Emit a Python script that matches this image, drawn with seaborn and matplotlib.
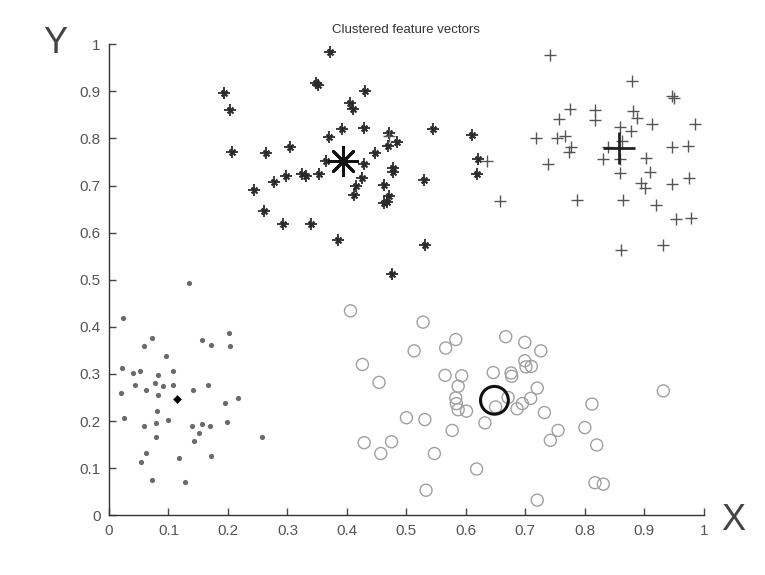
import matplotlib
matplotlib.use("Agg")
import matplotlib.pyplot as plt
import seaborn as sns
import pandas as pd

# cluster 1: asterisks (upper left)
star_x = [0.371, 0.348, 0.352, 0.193, 0.431, 0.204, 0.406, 0.411, 0.392, 0.429, 0.370, 0.471,
          0.485, 0.469, 0.545, 0.611, 0.621, 0.618, 0.207, 0.264, 0.304, 0.364, 0.448, 0.429,
          0.478, 0.478, 0.426, 0.416, 0.412, 0.463, 0.471, 0.463, 0.467, 0.530, 0.353, 0.332,
          0.324, 0.297, 0.277, 0.244, 0.261, 0.293, 0.339, 0.385, 0.531, 0.475]
star_y = [0.984, 0.918, 0.914, 0.897, 0.900, 0.860, 0.875, 0.863, 0.820, 0.822, 0.803, 0.811,
          0.792, 0.785, 0.820, 0.807, 0.756, 0.724, 0.772, 0.769, 0.781, 0.752, 0.769, 0.745,
          0.738, 0.729, 0.717, 0.699, 0.679, 0.701, 0.677, 0.662, 0.665, 0.711, 0.725, 0.720,
          0.724, 0.720, 0.708, 0.690, 0.646, 0.619, 0.618, 0.585, 0.573, 0.512]

# cluster 2: plus signs (upper right)
plus_x = [0.742, 0.879, 0.947, 0.950, 0.775, 0.756, 0.817, 0.817, 0.881, 0.888, 0.913, 0.985,
          0.859, 0.878, 0.718, 0.754, 0.766, 0.776, 0.773, 0.839, 0.862, 0.831, 0.859, 0.903,
          0.947, 0.974, 0.738, 0.859, 0.909, 0.894, 0.901, 0.946, 0.975, 0.657, 0.787, 0.864,
          0.920, 0.954, 0.978, 0.932, 0.860, 0.635, 0.470]
plus_y = [0.977, 0.921, 0.890, 0.886, 0.862, 0.842, 0.860, 0.840, 0.858, 0.844, 0.830, 0.830,
          0.824, 0.816, 0.801, 0.800, 0.805, 0.781, 0.771, 0.781, 0.795, 0.757, 0.757, 0.759,
          0.781, 0.783, 0.745, 0.727, 0.728, 0.706, 0.694, 0.703, 0.717, 0.667, 0.670, 0.670,
          0.658, 0.628, 0.631, 0.573, 0.563, 0.752, 0.805]

# cluster 3: dots (lower left)
dot_x = [0.134, 0.024, 0.072, 0.058, 0.156, 0.171, 0.202, 0.204, 0.096, 0.021, 0.040, 0.052,
         0.082, 0.107, 0.043, 0.077, 0.090, 0.107, 0.167, 0.020, 0.063, 0.082, 0.142, 0.217,
         0.195, 0.081, 0.026, 0.100, 0.199, 0.058, 0.079, 0.139, 0.157, 0.170, 0.152, 0.079,
         0.257, 0.143, 0.062, 0.054, 0.118, 0.171, 0.072, 0.128]
dot_y = [0.494, 0.418, 0.377, 0.359, 0.372, 0.362, 0.386, 0.359, 0.339, 0.313, 0.301, 0.306,
         0.297, 0.306, 0.277, 0.281, 0.275, 0.277, 0.277, 0.260, 0.265, 0.255, 0.265, 0.248,
         0.239, 0.221, 0.207, 0.202, 0.198, 0.190, 0.196, 0.190, 0.193, 0.190, 0.175, 0.166,
         0.166, 0.158, 0.132, 0.112, 0.122, 0.126, 0.074, 0.071]

# cluster 4: open circles (lower right)
circ_x = [0.406, 0.528, 0.583, 0.566, 0.513, 0.667, 0.699, 0.726, 0.426, 0.699, 0.710, 0.701,
          0.646, 0.676, 0.677, 0.565, 0.593, 0.454, 0.587, 0.720, 0.932, 0.583, 0.584, 0.587,
          0.601, 0.650, 0.671, 0.709, 0.695, 0.686, 0.732, 0.812, 0.500, 0.531, 0.632, 0.577,
          0.800, 0.755, 0.742, 0.820, 0.429, 0.475, 0.457, 0.547, 0.618, 0.817, 0.831, 0.533,
          0.720]
circ_y = [0.434, 0.410, 0.373, 0.355, 0.349, 0.379, 0.367, 0.349, 0.320, 0.328, 0.316, 0.315,
          0.303, 0.302, 0.295, 0.297, 0.296, 0.282, 0.274, 0.270, 0.264, 0.249, 0.237, 0.224,
          0.221, 0.230, 0.250, 0.248, 0.237, 0.226, 0.218, 0.236, 0.207, 0.203, 0.196, 0.180,
          0.186, 0.180, 0.159, 0.149, 0.154, 0.156, 0.131, 0.131, 0.098, 0.069, 0.066, 0.053,
          0.032]

# cluster centres
cent_x = [0.394, 0.858, 0.114, 0.648]
cent_y = [0.752, 0.779, 0.246, 0.244]

sns.set_theme(style="white")
plt.rcParams['font.family'] = ['Liberation Sans', 'DejaVu Sans']

fig = plt.figure(figsize=(7.65, 5.75), dpi=100)
ax = fig.add_axes([0.1425, 0.104, 0.7775, 0.819])

asterisk = (8, 2, 0)

# small asterisks look like a plus with a heavy centre in the source image
sns.scatterplot(x=star_x, y=star_y, ax=ax, marker='+', s=70, color='#2a2a2a', linewidth=1.3)
sns.scatterplot(x=star_x, y=star_y, ax=ax, marker='x', s=18, color='#2a2a2a', linewidth=1.6)
sns.scatterplot(x=plus_x, y=plus_y, ax=ax, marker='+', s=70, color='#555555', linewidth=1.0)
sns.scatterplot(x=dot_x, y=dot_y, ax=ax, marker='o', s=14, color='#6a6a6a', linewidth=0)
sns.scatterplot(x=circ_x, y=circ_y, ax=ax, marker='o', s=75, facecolor='none',
                edgecolor='#a0a0a0', linewidth=1.0)

# centres
ax.scatter(cent_x[0:1], cent_y[0:1], marker=asterisk, s=420, color='#111111', linewidth=2.0)
ax.scatter(cent_x[1:2], cent_y[1:2], marker='+', s=560, color='#222222', linewidth=2.0)
ax.scatter(cent_x[2:3], cent_y[2:3], marker='D', s=20, color='#000000', linewidth=0)
ax.scatter(cent_x[3:4], cent_y[3:4], marker='o', s=400, facecolor='none', edgecolor='#111111',
           linewidth=2.2)

ax.set_xlim(0, 1)
ax.set_ylim(0, 1)
ticks = [0, 0.1, 0.2, 0.3, 0.4, 0.5, 0.6, 0.7, 0.8, 0.9, 1]
labels = ['0', '0.1', '0.2', '0.3', '0.4', '0.5', '0.6', '0.7', '0.8', '0.9', '1']
ax.set_xticks(ticks)
ax.set_xticklabels(labels)
ax.set_yticks(ticks)
ax.set_yticklabels(labels)
ax.tick_params(direction='in', length=5, width=1, colors='#444444', labelsize=11,
               bottom=True, left=True, pad=6)
for lab in ax.get_xticklabels() + ax.get_yticklabels():
    lab.set_color('#555555')
sns.despine(ax=ax)
for side in ['left', 'bottom']:
    ax.spines[side].set_color('#333333')
    ax.spines[side].set_linewidth(1.0)

ax.set_title('Clustered feature vectors', fontsize=9.5, color='#333333', pad=8)
fig.text(0.072, 0.925, 'Y', fontsize=26, color='#444444', ha='center', va='center')
fig.text(0.958, 0.095, 'X', fontsize=26, color='#444444', ha='center', va='center')

fig.savefig('out.png', dpi=100, facecolor='white')
